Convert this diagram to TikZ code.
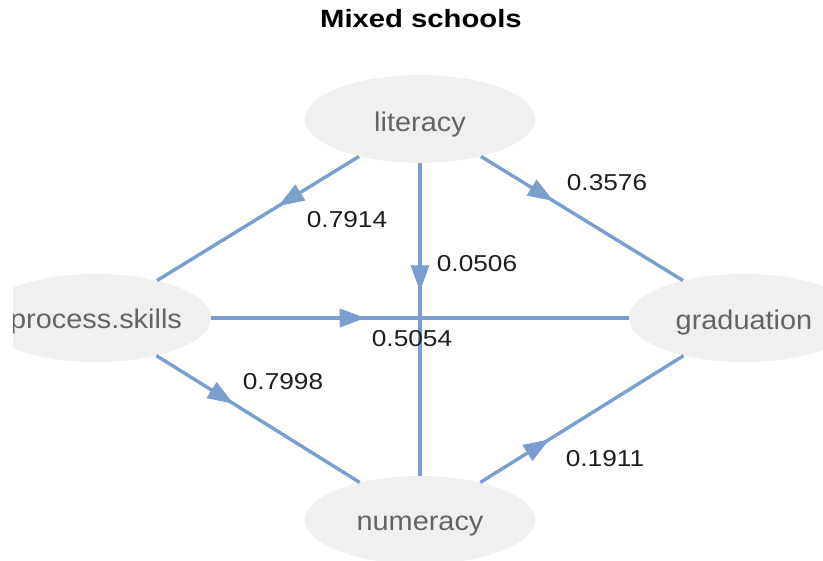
\documentclass[tikz,border=0pt]{standalone}
\usepackage{fontspec}
\usepackage{graphicx}
\setmainfont{Liberation Sans}
\usetikzlibrary{shapes.geometric,arrows.meta,decorations.markings}
\definecolor{edgeblue}{RGB}{122,158,206}
\definecolor{nodefill}{RGB}{240,240,240}
\definecolor{nodetextgray}{RGB}{100,100,100}
\definecolor{labeldark}{RGB}{30,30,30}
\newcommand{\wide}[2]{\scalebox{#1}[1]{#2}}
\begin{document}
\begin{tikzpicture}[x=1pt,y=-1pt,
  vertex/.style={ellipse,fill=nodefill,draw=none,minimum width=230pt,minimum height=88pt,inner sep=0pt},
  vname/.style={anchor=base,text=nodetextgray,inner sep=0pt,font=\fontsize{27}{30}\selectfont},
  weight/.style={anchor=base,text=labeldark,inner sep=0pt,font=\fontsize{23}{26}\selectfont},
  link/.style={draw=edgeblue,line width=3.4pt,postaction={decorate},
    decoration={markings,mark=at position #1 with {\arrow{Triangle[length=26pt,width=18pt]}}}},
  link/.default=0.38,
]
\useasboundingbox (0,0) rectangle (823,561);
\clip (13,0) rectangle (823,561);

% title
\node[anchor=base,inner sep=0pt,font=\bfseries\fontsize{25}{28}\selectfont] (title) at (421,28) {\wide{1.17}{Mixed schools}};

% variables
\node[vertex] (lit)  at (420,119) {};
\node[vertex] (proc) at (96,318)  {};
\node[vertex] (grad) at (744,318) {};
\node[vertex] (num)  at (420,520) {};

% paths
\draw[link=0.40] (lit)  -- (proc);
\draw[link=0.36] (lit)  -- (grad);
\draw[link=0.41] (lit)  -- (num);
\draw[link=0.37] (proc) -- (grad);
\draw[link=0.38] (proc) -- (num);
\draw[link=0.34] (num)  -- (grad);

% variable names
\node[vname] (litname)  at (420,132) {\wide{1.07}{literacy}};
\node[vname] (procname) at (96,329)  {\wide{1.07}{process.skills}};
\node[vname] (gradname) at (744,330) {\wide{1.07}{graduation}};
\node[vname] (numname)  at (420,530) {\wide{1.07}{numeracy}};

% path coefficients
\node[weight] (w1) at (347,228) {\wide{1.14}{0.7914}};
\node[weight] (w2) at (607,191) {\wide{1.14}{0.3576}};
\node[weight] (w3) at (477,272) {\wide{1.14}{0.0506}};
\node[weight] (w4) at (412,347) {\wide{1.14}{0.5054}};
\node[weight] (w5) at (283,390) {\wide{1.14}{0.7998}};
\node[weight] (w6) at (605,467) {\wide{1.14}{0.1911}};
\end{tikzpicture}
\end{document}
